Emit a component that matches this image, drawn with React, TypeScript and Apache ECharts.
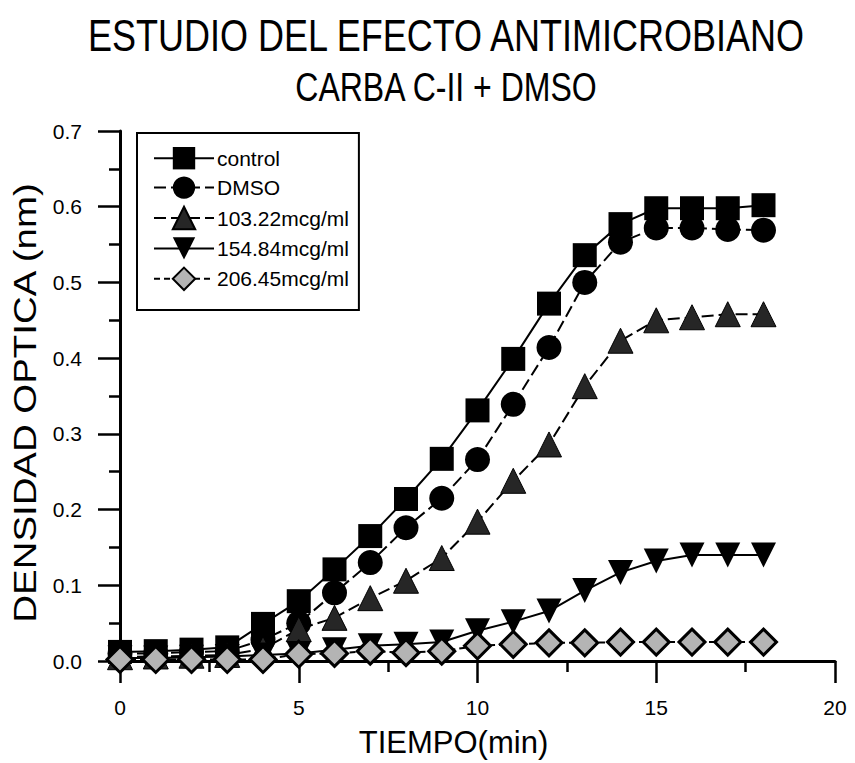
import React, { useEffect, useRef } from "react";
import * as echarts from "echarts";

const FONT = "'Liberation Sans', Arial, Helvetica, sans-serif";

const titleLines = ["ESTUDIO DEL EFECTO ANTIMICROBIANO", "CARBA C-II + DMSO"];
const xName = "TIEMPO(min)";
const yName = "DENSIDAD OPTICA (nm)";

const times = [0, 1, 2, 3, 4, 5, 6, 7, 8, 9, 10, 11, 12, 13, 14, 15, 16, 17, 18];
const seriesNames = ["control", "DMSO", "103.22mcg/ml", "154.84mcg/ml", "206.45mcg/ml"];
const control = [0.012, 0.013, 0.015, 0.018, 0.049, 0.079, 0.121, 0.165, 0.214, 0.267, 0.331, 0.399, 0.472, 0.536, 0.577, 0.598, 0.598, 0.598, 0.602];
const dmso = [0.010, 0.010, 0.012, 0.013, 0.028, 0.050, 0.090, 0.130, 0.176, 0.215, 0.266, 0.339, 0.414, 0.500, 0.553, 0.572, 0.572, 0.570, 0.569];
const c103 = [0.005, 0.006, 0.007, 0.008, 0.016, 0.042, 0.057, 0.083, 0.106, 0.136, 0.184, 0.238, 0.286, 0.363, 0.423, 0.450, 0.454, 0.458, 0.458];
const c154 = [0.004, 0.004, 0.005, 0.006, 0.008, 0.010, 0.015, 0.020, 0.022, 0.025, 0.040, 0.052, 0.066, 0.093, 0.117, 0.132, 0.140, 0.140, 0.140];
const c206 = [0.002, 0.002, 0.002, 0.002, 0.002, 0.009, 0.010, 0.013, 0.011, 0.013, 0.020, 0.022, 0.024, 0.024, 0.025, 0.025, 0.025, 0.025, 0.025];

const allValues = [control, dmso, c103, c154, c206];

const symbols = ["rect", "circle", "triangle", "path://M0,0 L10,0 L5,10 Z", "diamond"];
const symbolSizes = [24, 25, 25, 25, 26];
const fills = ["#000", "#000", "#262626", "#000", "#b4b4b4"];
const borderWidths = [0, 0, 1, 0, 3];
const lineTypes: any[] = ["solid", [12, 5], [12, 5], "solid", [6, 4]];

export default function App() {
  const ref = useRef<HTMLDivElement>(null);
  useEffect(() => {
    document.body.style.margin = "0";
    if (!ref.current) return;
    const chart = echarts.init(ref.current, null, { renderer: "svg" });
    const series = allValues.map((vals, i) => ({
      name: seriesNames[i],
      type: "line",
      data: times.map((t, j) => [t, vals[j]]),
      symbol: symbols[i],
      symbolSize: symbolSizes[i],
      showAllSymbol: true,
      clip: false,
      lineStyle: { color: "#000", width: 2, type: lineTypes[i] },
      itemStyle: { color: fills[i], borderColor: "#000", borderWidth: borderWidths[i] },
      emphasis: { disabled: true },
    }));
    const titleSizes = [36, 32];
    const titleY = [36, 87];
    chart.setOption({
      animation: false,
      backgroundColor: "#fff",
      textStyle: { fontFamily: FONT },
      graphic: [
        ...titleLines.map((t, i) => ({
          type: "text",
          x: 446,
          y: titleY[i],
          scaleY: 1.25,
          style: {
            text: t,
            fontSize: titleSizes[i],
            fontFamily: FONT,
            fill: "#000",
            textAlign: "center",
            textVerticalAlign: "middle",
          },
        })),
        {
          type: "text",
          x: 25,
          y: 403,
          rotation: Math.PI / 2,
          scaleX: 1.2,
          style: {
            text: yName,
            fontSize: 32,
            fontFamily: FONT,
            fill: "#000",
            textAlign: "center",
            textVerticalAlign: "middle",
          },
        },
      ],
      grid: { left: 120, right: 20, top: 131, bottom: 102 },
      legend: {
        orient: "vertical",
        left: 137,
        top: 133,
        padding: [14, 10, 19, 16],
        borderColor: "#000",
        borderWidth: 2,
        itemWidth: 60,
        itemHeight: 28,
        itemGap: 7,
        textStyle: { fontSize: 21, color: "#000", fontFamily: FONT, padding: [0, 0, 0, -2] },
        data: seriesNames,
      },
      xAxis: {
        type: "value",
        min: 0,
        max: 20,
        interval: 5,
        name: xName,
        nameLocation: "middle",
        nameGap: 66,
        nameTextStyle: { fontSize: 31, color: "#000", fontFamily: FONT, padding: [0, 48, 0, 0] },
        axisLine: { lineStyle: { color: "#000", width: 3 } },
        axisTick: { length: 22, lineStyle: { color: "#000", width: 2.5 } },
        minorTick: { show: true, splitNumber: 2, length: 11, lineStyle: { color: "#000", width: 2.5 } },
        splitLine: { show: false },
        axisLabel: { fontSize: 21, color: "#000", margin: 36, fontFamily: FONT },
      },
      yAxis: {
        type: "value",
        min: 0,
        max: 0.7,
        interval: 0.1,
        axisLine: { lineStyle: { color: "#000", width: 3 } },
        axisTick: { length: 22, lineStyle: { color: "#000", width: 2.5 } },
        minorTick: { show: true, splitNumber: 2, length: 11, lineStyle: { color: "#000", width: 2.5 } },
        splitLine: { show: false },
        axisLabel: {
          fontSize: 21,
          color: "#000",
          margin: 38,
          fontFamily: FONT,
          formatter: (v: number) => v.toFixed(1),
        },
      },
      series,
    });
    return () => chart.dispose();
  }, []);
  return <div ref={ref} style={{ width: 855, height: 763 }} />;
}
